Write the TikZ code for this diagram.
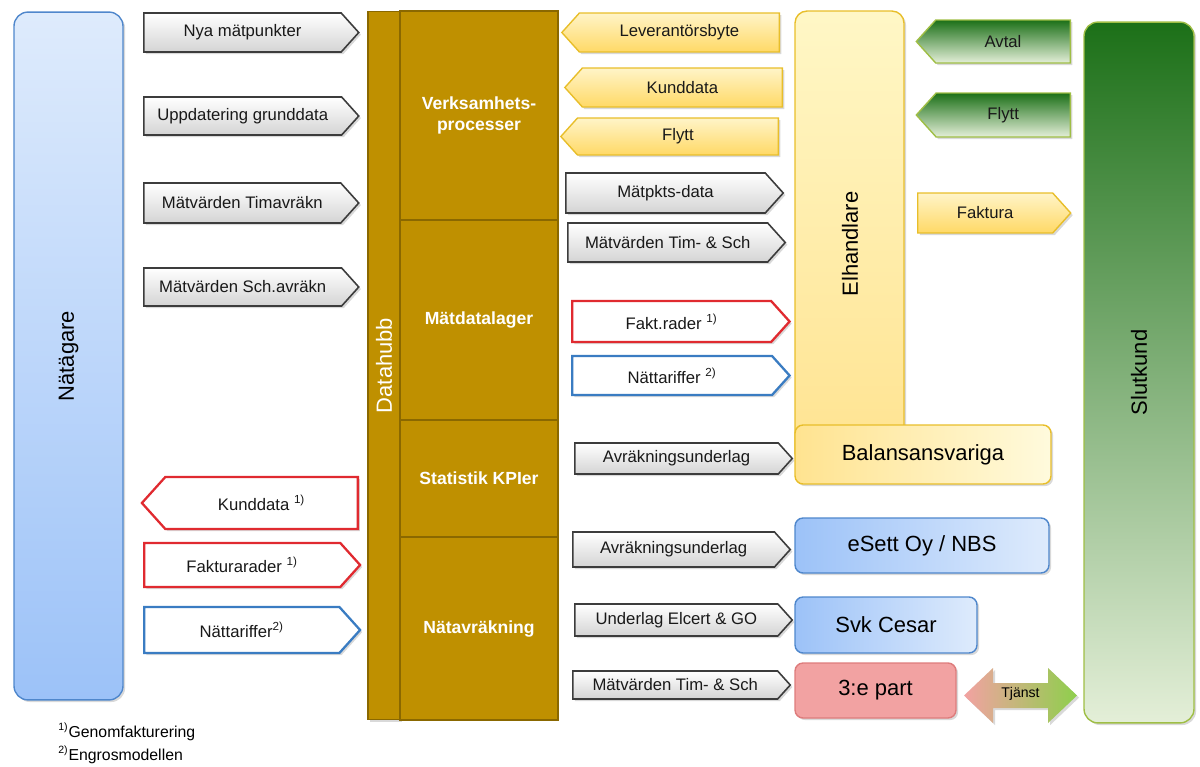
\documentclass[tikz,border=0pt]{standalone}
\usepackage{fontspec}
\setmainfont{Liberation Sans}
\usetikzlibrary{positioning,shapes.symbols,shadows}

\definecolor{hubgold}{HTML}{BF9000}
\definecolor{hubline}{HTML}{8A6800}
\definecolor{greyedge}{HTML}{3C3C3C}
\definecolor{greylow}{HTML}{D4D4D4}
\definecolor{yellowtop}{HTML}{FFF4C8}
\definecolor{yellowlow}{HTML}{FFD966}
\definecolor{yellowedge}{HTML}{E8BE2A}
\definecolor{sellertop}{HTML}{FFF7C6}
\definecolor{sellerlow}{HTML}{FFE390}
\definecolor{bluetop}{HTML}{DEEBFC}
\definecolor{bluelow}{HTML}{9CC2F8}
\definecolor{blueedge}{HTML}{4F87CC}
\definecolor{greentop}{HTML}{1C7018}
\definecolor{greenlow}{HTML}{E4EFD8}
\definecolor{greenedge}{HTML}{9FBE45}
\definecolor{rededge}{HTML}{E02A30}
\definecolor{tariffblue}{HTML}{3A7CC2}
\definecolor{pinkfill}{HTML}{F2A2A2}
\definecolor{pinkedge}{HTML}{DE7C7C}
\definecolor{servgreen}{HTML}{8ECF4C}

\newcommand\flowfont{\fontsize{9.5}{11}\selectfont}
\newcommand\actorfont{\fontsize{12.5}{14}\selectfont}

\tikzset{
  shade/.style={drop shadow={opacity=0.3,shadow xshift=1.2pt,shadow yshift=-1.2pt}},
  flow/.style={signal, signal pointer angle=96, font=\flowfont, text=black!90,
    inner sep=1pt, shade},
  toright/.style={flow, signal to=east, signal from=nowhere, anchor=west},
  toleft/.style={flow, signal to=west, signal from=nowhere, anchor=east},
  greyflow/.style={draw=greyedge, line width=0.9pt, top color=white, bottom color=greylow},
  yellowflow/.style={draw=yellowedge, line width=0.8pt, top color=yellowtop, bottom color=yellowlow},
  greenflow/.style={draw=greenedge, line width=0.8pt, top color=greentop, bottom color=greenlow},
  redflow/.style={draw=rededge, line width=1.3pt, fill=white},
  blueflow/.style={draw=tariffblue, line width=1.3pt, fill=white},
  actor/.style={rectangle, rounded corners=0.28cm, line width=0.8pt, shade},
  party/.style={rectangle, rounded corners=0.16cm, line width=0.8pt, font=\actorfont, shade},
  hubpart/.style={rectangle, draw=hubline, fill=hubgold, line width=0.6pt,
    minimum width=3.16cm, text=white, font=\fontsize{10}{12}\selectfont\bfseries, align=center},
  note/.style={anchor=west, font=\fontsize{9}{11}\selectfont, inner sep=0pt}
}

\begin{document}
\begin{tikzpicture}[x=0.02cm, y=-0.02cm]
  \useasboundingbox (0,0) rectangle (1200,767);

  % Nätägare
  \node [actor, draw=blueedge, top color=bluetop, bottom color=bluelow,
         minimum width=2.18cm, minimum height=13.76cm] (netowner) at (68.5,356) {};
  \node [rotate=90, font=\actorfont] (netowner-txt) at (netowner) {Nätägare};

  \node [toright, greyflow, minimum width=4.3cm, minimum height=0.78cm] (newpts) at (143,32.5) {Nya mätpunkter};
  \node [toright, greyflow, minimum width=4.3cm, minimum height=0.76cm] (update) at (143,116) {Uppdatering grunddata};
  \node [toright, greyflow, minimum width=4.3cm, minimum height=0.8cm] (hourly) at (143,203) {Mätvärden Timavräkn};
  \node [toright, greyflow, minimum width=4.3cm, minimum height=0.76cm] (profile) at (143,287) {Mätvärden Sch.avräkn};

  \node [toleft, redflow, minimum width=4.32cm, minimum height=1.04cm] (custdata-l) at (359,503) {Kunddata \textsuperscript{1)}};
  \node [toright, redflow, minimum width=4.32cm, minimum height=0.88cm] (invrows-l) at (143,565) {Fakturarader \textsuperscript{1)}};
  \node [toright, blueflow, minimum width=4.32cm, minimum height=0.92cm] (tariffs-l) at (143,630) {Nättariffer\textsuperscript{2)}};

  \node [note] (fn1) at (58,732) {\textsuperscript{1)}Genomfakturering};
  \node [note] (fn2) at (58,755) {\textsuperscript{2)}Engrosmodellen};

  % Datahubb
  \node [rectangle, draw=hubline, fill=hubgold, line width=0.6pt, shade,
         minimum width=0.64cm, minimum height=14.18cm] (hub) at (384,365.5) {};
  \node [rotate=90, text=white, font=\actorfont] (hub-txt) at (hub) {Datahubb};
  \node [hubpart, minimum height=4.18cm] (processes) at (479,115.5) {Verksamhets-\\processer};
  \node [hubpart, minimum height=4.0cm] (meterstore) at (479,320) {Mätdatalager};
  \node [hubpart, minimum height=2.34cm] (stats) at (479,478.5) {Statistik KPIer};
  \node [hubpart, minimum height=3.66cm] (gridsettle) at (479,628.5) {Nätavräkning};

  \node [toleft, yellowflow, minimum width=4.35cm, minimum height=0.78cm] (switch) at (780,32.5) {Leverantörsbyte};
  \node [toleft, yellowflow, minimum width=4.35cm, minimum height=0.78cm] (custdata-r) at (783,87.5) {Kunddata};
  \node [toleft, yellowflow, minimum width=4.35cm, minimum height=0.74cm] (move-r) at (779,136.5) {Flytt};
  \node [toright, greyflow, minimum width=4.35cm, minimum height=0.8cm] (ptdata) at (565,193) {Mätpkts-data};
  \node [toright, greyflow, minimum width=4.35cm, minimum height=0.78cm] (values-r) at (567,242.5) {Mätvärden Tim- \& Sch};
  \node [toright, redflow, minimum width=4.35cm, minimum height=0.82cm] (invrows-r) at (571,321.5) {Fakt.rader \textsuperscript{1)}};
  \node [toright, blueflow, minimum width=4.35cm, minimum height=0.78cm] (tariffs-r) at (571,375.5) {Nättariffer \textsuperscript{2)}};
  \node [toright, greyflow, minimum width=4.35cm, minimum height=0.62cm] (basis-brp) at (574,458.5) {Avräkningsunderlag};
  \node [toright, greyflow, minimum width=4.35cm, minimum height=0.7cm] (basis-esett) at (572,549.5) {Avräkningsunderlag};
  \node [toright, greyflow, minimum width=4.35cm, minimum height=0.64cm] (elcert) at (574,620) {Underlag Elcert \& GO};
  \node [toright, greyflow, minimum width=4.35cm, minimum height=0.56cm] (values-3rd) at (572,685) {Mätvärden Tim- \& Sch};

  % Elhandlare och övriga parter
  \node [actor, rounded corners=0.24cm, draw=yellowedge, top color=sellertop, bottom color=sellerlow,
         minimum width=2.18cm, minimum height=9.08cm] (retailer) at (849.5,238) {};
  \node [rotate=90, font=\actorfont] (retailer-txt) at (850,244) {Elhandlare};
  \node [party, draw=yellowedge, left color=sellerlow, right color=sellertop!60!white,
         minimum width=5.12cm, minimum height=1.18cm] (brp) at (923,454.5) {Balansansvariga};
  \node [party, draw=blueedge, left color=bluelow, right color=bluetop,
         minimum width=5.08cm, minimum height=1.1cm] (esett) at (922,545.5) {eSett Oy / NBS};
  \node [party, draw=blueedge, left color=bluelow, right color=bluetop,
         minimum width=3.64cm, minimum height=1.12cm] (cesar) at (886,625) {Svk Cesar};
  \node [party, draw=pinkedge, fill=pinkfill,
         minimum width=3.22cm, minimum height=1.1cm] (thirdparty) at (875.5,690.5) {3:e part};

  % Tjänst, dubbelpil
  \path [left color=pinkfill, right color=servgreen, shade]
    (964,695.5) -- (993,668) -- (993,683) -- (1048,683) -- (1048,668) -- (1077,695.5)
    -- (1048,723) -- (1048,708) -- (993,708) -- (993,723) -- cycle;
  \node [font=\fontsize{8}{9}\selectfont, inner sep=1pt] (service) at (1020.5,694) {Tjänst};

  \node [toleft, greenflow, minimum width=3.08cm, minimum height=0.86cm] (contract) at (1071,41.5) {Avtal};
  \node [toleft, greenflow, minimum width=3.08cm, minimum height=0.88cm] (move-c) at (1071,115) {Flytt};
  \node [toright, yellowflow, minimum width=3.06cm, minimum height=0.8cm] (invoice) at (917,213) {Faktura};

  % Slutkund
  \node [actor, draw=greenedge, top color=greentop, bottom color=greenlow,
         minimum width=2.2cm, minimum height=14.02cm] (customer) at (1139,372.5) {};
  \node [rotate=90, font=\actorfont] (customer-txt) at (customer) {Slutkund};
\end{tikzpicture}
\end{document}
